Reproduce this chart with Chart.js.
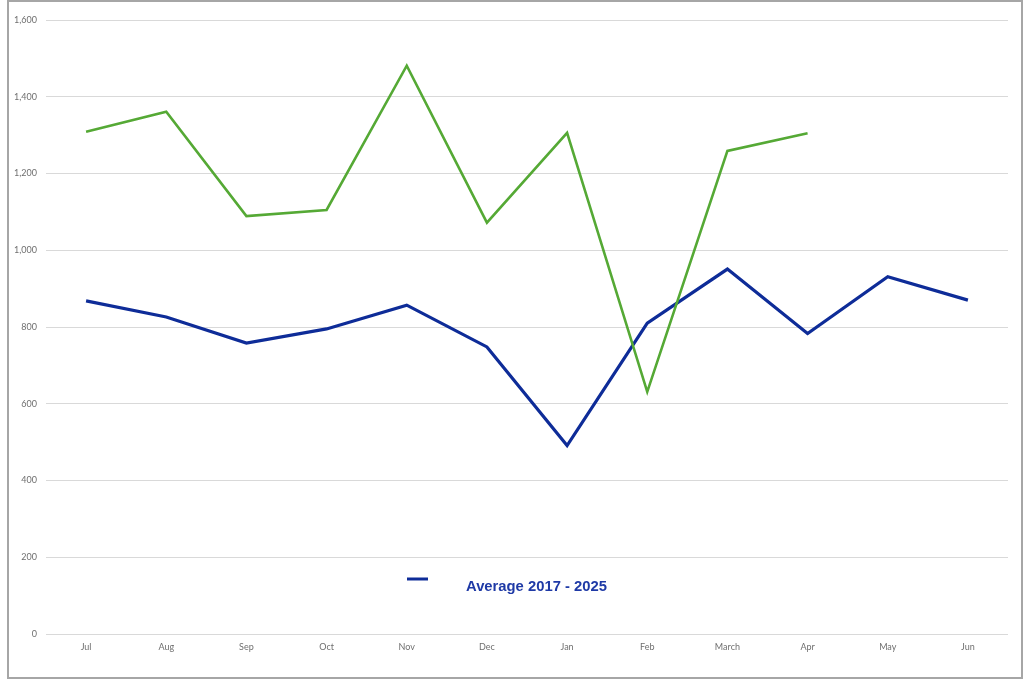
<!DOCTYPE html>
<html>
<head>
<meta charset="utf-8">
<script src="https://cdn.jsdelivr.net/npm/chart.js@4/dist/chart.umd.min.js"></script>
<style>
  html, body { margin: 0; padding: 0; background: #fff; }
  #wrap { position: relative; width: 1024px; height: 683px; }
  #frame { position: absolute; left: 7px; top: 0px; width: 1012px; height: 675px; border: 2px solid #a6a6a6; pointer-events: none; }
  canvas { position: absolute; left: 0; top: 0; }
</style>
</head>
<body>
<div id="wrap">
  <canvas id="c" width="1024" height="683"></canvas>
  <div id="frame"></div>
</div>
<script>
const months = ['Jul','Aug','Sep','Oct','Nov','Dec','Jan','Feb','March','Apr','May','Jun'];
const currentYear = [1309, 1361, 1089, 1105, 1481, 1072, 1306, 631, 1259, 1305, null, null];
const average = [868, 826, 758, 795, 857, 748, 491, 810, 951, 783, 931, 870];
const averageLabel = 'Average 2017 - 2025';
const currentLabel = 'Current';

const legendPlugin = {
  id: 'customLegend',
  afterDraw(chart) {
    const ctx = chart.ctx;
    const ds = chart.data.datasets[1];
    ctx.save();
    ctx.strokeStyle = ds.borderColor;
    ctx.lineWidth = 3;
    ctx.beginPath();
    ctx.moveTo(407, 579);
    ctx.lineTo(428, 579);
    ctx.stroke();
    ctx.fillStyle = '#1f3aa6';
    ctx.font = 'bold 14.8px "Liberation Sans", Arial, sans-serif';
    ctx.textBaseline = 'alphabetic';
    ctx.textAlign = 'left';
    ctx.fillText(ds.label, 466, 591);
    ctx.restore();
  }
};

new Chart(document.getElementById('c'), {
  type: 'line',
  data: {
    labels: months,
    datasets: [
      { label: currentLabel, data: currentYear, borderColor: '#55a935', borderWidth: 2.6, pointRadius: 0, tension: 0, spanGaps: false },
      { label: averageLabel, data: average, borderColor: '#0e2c98', borderWidth: 3.2, pointRadius: 0, tension: 0 }
    ]
  },
  options: {
    responsive: false,
    animation: false,
    layout: { padding: { left: 0, right: 16, top: 20, bottom: 0 } },
    plugins: { legend: { display: false }, tooltip: { enabled: false } },
    scales: {
      x: {
        offset: true,
        grid: { display: false, drawTicks: false },
        border: { display: false },
        ticks: { color: '#6f6f6f', font: { family: 'Lato', size: 9 }, padding: 8, maxRotation: 0, autoSkip: false },
        afterFit(s) { s.height = 49; }
      },
      y: {
        min: 0, max: 1600,
        ticks: { stepSize: 200, color: '#6f6f6f', font: { family: 'Lato', size: 9 }, padding: 9,
          callback: v => v.toLocaleString('en-US') },
        grid: { color: '#d9d9d9', lineWidth: 1, drawTicks: false },
        border: { display: false },
        afterFit(s) { s.width = 46; }
      }
    }
  },
  plugins: [legendPlugin]
});
</script>
</body>
</html>
